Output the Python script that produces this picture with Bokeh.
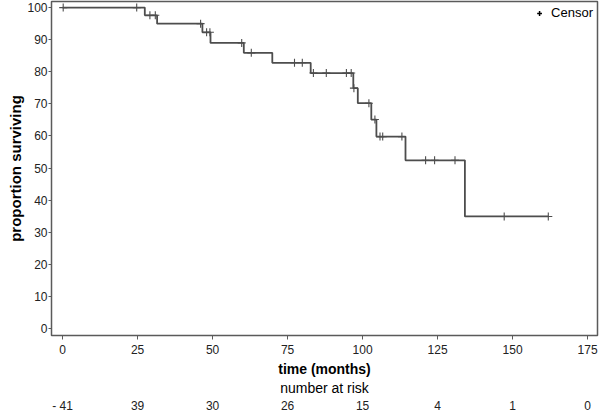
import numpy as np
from bokeh.plotting import figure
from bokeh.models import LinearAxis, FixedTicker, Range1d, ColumnDataSource, Legend, LegendItem
from bokeh.embed import file_html
from bokeh.resources import INLINE

# Kaplan-Meier step curve (event times, months) and survival (%)
step_times = [0, 27.4, 31.5, 46.6, 49.3, 60.4, 69.9, 82.7, 96.9, 98.4, 102.9, 104.6, 114.3, 134.1, 161.9]
step_surv = [100, 97.6, 95.0, 92.3, 89.0, 85.9, 82.8, 79.6, 74.9, 70.2, 65.1, 59.8, 52.4, 34.9, 34.9]

# censored observation times (months)
censor_times = [0.2, 24.7, 29.1, 30.9, 46.0, 48.0, 49.1, 59.7, 62.9, 77.3, 79.9, 83.6, 87.9,
                94.6, 96.2, 97.1, 102.1, 104.1, 105.8, 106.7, 113.1, 121.0, 124.0, 130.8,
                147.2, 161.9]

x_ticks = [0, 25, 50, 75, 100, 125, 150, 175]
y_ticks = [0, 10, 20, 30, 40, 50, 60, 70, 80, 90, 100]
at_risk = ["- 41", "39", "30", "26", "15", "4", "1", "0"]

# survival level at each censor time (from the step function)
idx = np.searchsorted(np.array(step_times), np.array(censor_times), side="right") - 1
censor_surv = [step_surv[i] for i in idx]

FONT = "Liberation Sans"
AX = "#5a5a5a"
LINE = "#4d4d4d"

p = figure(width=600, height=420, output_backend="svg", toolbar_location=None,
           x_range=Range1d(-3.7, 178.3), y_range=Range1d(-2.2, 101.9),
           min_border_left=51, min_border_right=3, min_border_top=1, min_border_bottom=85)
p.background_fill_color = "white"
p.border_fill_color = "white"
p.outline_line_color = AX
p.outline_line_width = 1.5
p.grid.visible = False

# main axes
xa = p.xaxis[0]
xa.ticker = FixedTicker(ticks=x_ticks)
xa.axis_label = "time (months)"
xa.axis_label_text_font = FONT
xa.axis_label_text_font_style = "bold"
xa.axis_label_text_font_size = "14px"
xa.axis_label_text_color = "black"
xa.axis_label_standoff = 4
xa.major_label_text_font = FONT
xa.major_label_text_font_size = "12px"
xa.major_label_text_color = "#222222"
xa.major_label_standoff = 5
xa.major_tick_out = 4
xa.major_tick_in = 0
xa.minor_tick_out = 0
xa.minor_tick_in = 0
xa.axis_line_color = AX
xa.major_tick_line_color = AX

ya = p.yaxis[0]
ya.ticker = FixedTicker(ticks=y_ticks)
ya.axis_label = "proportion surviving"
ya.axis_label_text_font = FONT
ya.axis_label_text_font_style = "bold"
ya.axis_label_text_font_size = "15px"
ya.axis_label_text_color = "black"
ya.axis_label_standoff = 0
ya.major_label_text_font = FONT
ya.major_label_text_font_size = "12px"
ya.major_label_text_color = "#222222"
ya.major_label_standoff = 1
ya.major_tick_out = 3
ya.major_tick_in = 0
ya.minor_tick_out = 0
ya.minor_tick_in = 0
ya.axis_line_color = AX
ya.major_tick_line_color = AX

# "number at risk" title axis
ax2 = LinearAxis(ticker=FixedTicker(ticks=[]), axis_label="number at risk",
                 axis_line_color=None, major_tick_line_color=None, minor_tick_line_color=None,
                 major_tick_out=0, major_tick_in=0, minor_tick_out=0, minor_tick_in=0,
                 major_label_standoff=0, axis_label_standoff=0,
                 axis_label_text_font=FONT, axis_label_text_font_style="normal",
                 axis_label_text_font_size="14px", axis_label_text_color="black")
p.add_layout(ax2, "below")

# numbers at risk axis
ax3 = LinearAxis(ticker=FixedTicker(ticks=x_ticks),
                 major_label_overrides={t: s for t, s in zip(x_ticks, at_risk)},
                 axis_line_color=None, major_tick_line_color=None, minor_tick_line_color=None,
                 major_tick_out=0, major_tick_in=0, minor_tick_out=0, minor_tick_in=0,
                 major_label_standoff=0,
                 major_label_text_font=FONT, major_label_text_font_size="12px",
                 major_label_text_color="#222222")
p.add_layout(ax3, "below")

# KM curve
p.step(step_times, step_surv, mode="after", line_color=LINE, line_width=1.8)
src = ColumnDataSource(dict(x=censor_times, y=censor_surv))
cens = p.scatter("x", "y", source=src, marker="cross", size=8, line_color=LINE, line_width=1.1)

# legend-only renderer
leg_r = p.scatter([-100], [-100], marker="cross", size=8, line_color="black", line_width=1.5)
legend = Legend(items=[LegendItem(label="Censor", renderers=[leg_r])], location="top_right",
                border_line_alpha=0, background_fill_alpha=0, label_text_font=FONT,
                label_text_font_size="13px", label_text_color="black",
                glyph_width=12, glyph_height=12, padding=2, margin=2, spacing=0,
                label_standoff=6)
p.add_layout(legend)

open("out.html", "w").write(file_html(p, INLINE))
